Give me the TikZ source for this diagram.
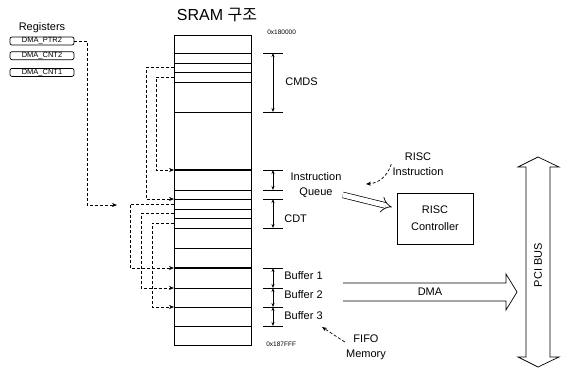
\documentclass[tikz,border=0pt]{standalone}
\usepackage{fontspec}
\setmainfont{Liberation Sans}
\newfontfamily\krfont{Noto Sans CJK KR}
\usetikzlibrary{arrows.meta,positioning,calc}
\tikzset{
  sramcol/.style={draw, minimum width=77pt, minimum height=310pt, inner sep=0pt},
  regbox/.style={draw, rounded corners=2pt, minimum width=64pt, minimum height=8pt,
    inner sep=0pt, font=\fontsize{7.5}{8}\selectfont},
  lbl/.style={font=\fontsize{11}{15}\selectfont, inner sep=1pt, align=center},
  addr/.style={font=\fontsize{6.5}{7}\selectfont, inner sep=0pt},
  dimarr/.style={{Stealth[length=4pt,width=3pt]}-{Stealth[length=4pt,width=3pt]}},
  ptrarr/.style={densely dashed, -{Stealth[length=5pt,width=4pt]}},
  openarr/.style={double, double distance=5pt, -{Implies}, shorten >=5pt},
}

\begin{document}
\begin{tikzpicture}[x=1pt, y=-1pt, line width=0.7pt]
  \useasboundingbox (0,0) rectangle (569,369);
  \node[font=\fontsize{16}{18}\selectfont] (title) at (217,15) {SRAM {\krfont 구조}};

  % SRAM memory map
  \node[sramcol] (sram) at (212.5,190) {};
  \foreach \y [count=\i] in {53,63,72,82,112,170,190,199,209,218,228,248,268,288,307,326} {
    \coordinate (L\i) at (174,\y);
    \coordinate (R\i) at (251,\y);
    \coordinate (D\i) at (273,\y);
    \draw (L\i) -- (R\i);
  }
  \draw[line width=1.1pt] (L6) -- (R6);
  \draw[line width=1.1pt] (L13) -- (R13);
  \node[addr, anchor=west] (atop) at (267,32) {0x180000};
  \node[addr, anchor=west] (abot) at (266,344) {0x187FFF};

  % region brackets
  \foreach \i in {1,5,6,7,8,11,13,14,15,16}
    \draw ([xshift=-10pt]D\i) -- ([xshift=10pt]D\i);
  \foreach \a/\b in {1/5,6/7,8/11,13/14,14/15,15/16}
    \draw[dimarr] (D\a) -- (D\b);
  \node[lbl, anchor=west] (cmds) at (284,82) {CMDS};
  \node[lbl] (iq) at (316,185) {Instruction\\Queue};
  \node[lbl, anchor=west] (cdt) at (283,219) {CDT};
  \node[lbl, anchor=west] (buf1) at (283,276) {Buffer 1};
  \node[lbl, anchor=west] (buf2) at (283,295) {Buffer 2};
  \node[lbl, anchor=west] (buf3) at (283,316) {Buffer 3};
  \node[lbl] (fifo) at (366,347) {FIFO\\Memory};
  \coordinate (ftip) at (322,327);
  \draw[ptrarr] ([yshift=5pt]fifo.west) -- (ftip);

  % registers
  \node[regbox] (ptr2) at (42,41) {DMA\_PTR2};
  \node[regbox, below=6pt of ptr2] (cnt2) {DMA\_CNT2};
  \node[regbox, below=8pt of cnt2] (cnt1) {DMA\_CNT1};
  \node[lbl, above=3pt of ptr2] (regs) {Registers};
  \coordinate (regin) at (117,205);
  \draw[ptrarr] (ptr2.east) -- ++(13,0) |- (regin);

  % pointers inside SRAM
  \draw[ptrarr] ($(L3)!0.5!(L4)$) -- ++(-18,0) |- (L6);
  \draw[ptrarr] ($(L2)!0.5!(L3)$) -- ++(-28,0) |- (L8);
  \draw[ptrarr] ($(L8)!0.5!(L9)$) -- ++(-44,0) |- (L13);
  \draw[ptrarr] ($(L9)!0.5!(L10)$) -- ++(-33,0) |- (L14);
  \draw[ptrarr] ($(L10)!0.5!(L11)$) -- ++(-22,0) |- (L15);

  % RISC side
  \node[draw, lbl, font=\fontsize{11}{17}\selectfont, minimum width=76pt, minimum height=51pt]
    (risc) at (435,218.5) {RISC\\Controller};
  \node[lbl] (risci) at (418,164) {RISC\\Instruction};
  \coordinate (itip) at (366,184);
  \draw[ptrarr] (risci.west) to[bend left=35] (itip);
  \draw[openarr] ([yshift=4pt]iq.south east) -- (risc.165);

  % DMA and PCI bus
  \draw (343,283) -- (506,283) -- (506,274) -- (517,292) -- (506,310) -- (506,301) -- (343,301);
  \node[lbl] (dma) at (430,292) {DMA};
  \draw (538,157) -- (559,167) -- (550,167) -- (550,357) -- (559,357) -- (538,367)
    -- (518,357) -- (526,357) -- (526,167) -- (518,167) -- cycle;
  \node[lbl, rotate=90] (pci) at (538,265) {PCI BUS};
\end{tikzpicture}
\end{document}
